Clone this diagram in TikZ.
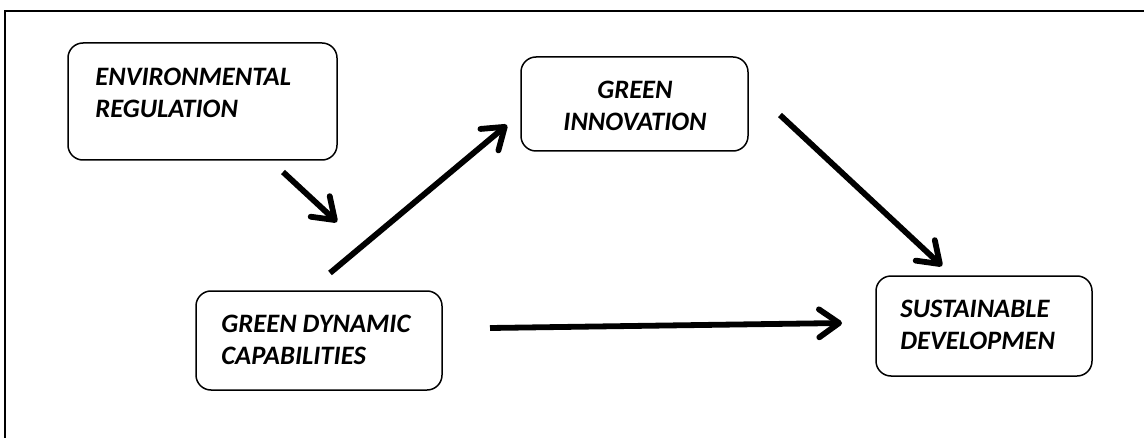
\documentclass[tikz,border=0pt]{standalone}
\usepackage{fontspec}
\setmainfont{Carlito}
\usetikzlibrary{arrows.meta}

\tikzset{
  box/.style={draw, rounded corners=7.5pt, line width=0.75pt, inner sep=0pt},
  boxtext/.style={font=\bfseries\itshape\fontsize{13.3}{16}\selectfont, align=left, inner sep=0pt},
  link/.style={line width=2.9pt, -{Straight Barb[round, length=10pt, width=14pt]}}
}

\begin{document}
\begin{tikzpicture}[x=0.5pt, y=-0.5pt]
  \useasboundingbox (0,0) rectangle (1144,438);
  % outer frame (runs off the page right and below)
  \draw[line width=1pt] (5,440) -- (5,11) -- (1146,11);
  % boxes
  \node[box, minimum width=134.5pt, minimum height=58.5pt] (envreg) at (202.5,101.5) {};
  \node[box, minimum width=113.5pt, minimum height=47pt] (greeninno) at (634.5,104) {};
  \node[box, minimum width=123pt, minimum height=49.5pt] (gdc) at (319,340.5) {};
  \node[box, minimum width=108pt, minimum height=50pt] (sustdev) at (984,326) {};
  % texts
  \node[boxtext, anchor=west] (envreg-txt) at (95,92.5) {ENVIRONMENTAL\\REGULATION};
  \node[boxtext, align=center] (greeninno-txt) at (635,106) {GREEN\\INNOVATION};
  \node[boxtext, anchor=west] (gdc-txt) at (221,339.5) {GREEN DYNAMIC\\CAPABILITIES};
  \node[boxtext, anchor=west] (sustdev-txt) at (900,325) {SUSTAINABLE\\DEVELOPMEN};
  % arrows
  \coordinate (a1s) at (283,172);
  \coordinate (a1e) at (337,222);
  \coordinate (a2s) at (330,273);
  \coordinate (a2e) at (507,125);
  \coordinate (a3s) at (780,115);
  \coordinate (a3e) at (942,266);
  \coordinate (a4s) at (490,328);
  \coordinate (a4e) at (842,323);
  \draw[link] (a1s) -- (a1e);
  \draw[link] (a2s) -- (a2e);
  \draw[link] (a3s) -- (a3e);
  \draw[link] (a4s) -- (a4e);
\end{tikzpicture}
\end{document}
